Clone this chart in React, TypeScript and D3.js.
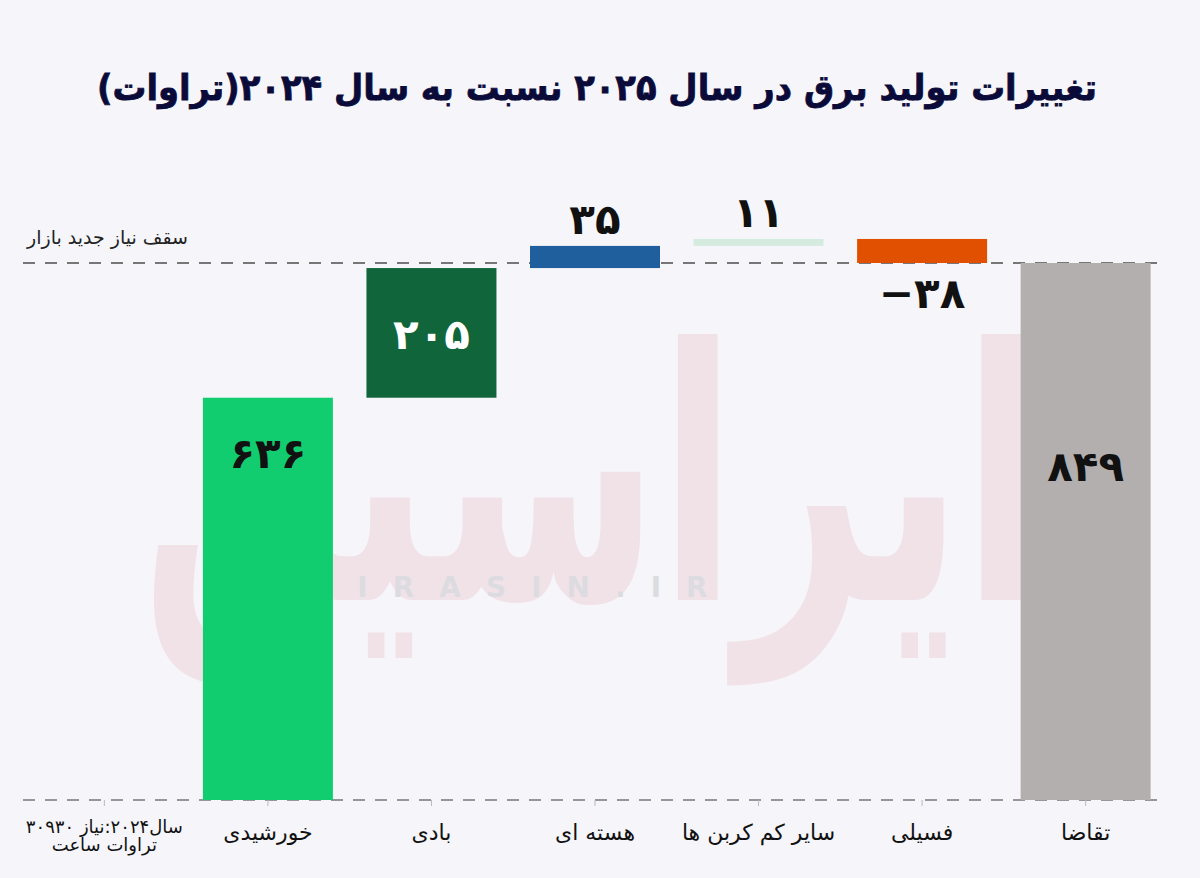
import React from "react";
import * as d3 from "d3";

const categories = ["base2024", "خورشیدی", "بادی", "هسته ای", "سایر کم کربن ها", "فسیلی", "تقاضا"];
const changes = [0, 636, 205, 35, 11, -38, 0];
const demandTotal = 849;
const barColors = ["none", "#12cc70", "#10663a", "#1f5f9e", "#d6ebe0", "#e05000", "#b2afae"];
const labelColors = ["none", "#111", "#fff", "#111", "#111", "#111", "#111"];
const title = "تغییرات تولید برق در سال ۲۰۲۵ نسبت به سال ۲۰۲۴(تراوات)";
const ceilingLabel = "سقف نیاز جدید بازار";
const baseLabelLines = ["سال۲۰۲۴:نیاز ۳۰۹۳۰", "تراوات ساعت"];

const W = 1200;
const H = 878;
const FONT = "'DejaVu Sans', sans-serif";

const toFa = (n: number) => {
  const digits = "۰۱۲۳۴۵۶۷۸۹";
  const s = String(Math.abs(n)).replace(/\d/g, (d) => digits[+d]);
  return n < 0 ? "−" + s : s;
};

export default function App() {
  const x = d3.scaleBand<string>().domain(categories).range([23, 1167]).paddingInner(0.205).paddingOuter(0.1);
  const y = d3.scaleLinear().domain([0, demandTotal]).range([800, 263]);

  let run = 0;
  const bars = categories.map((c, i) => {
    if (i === 0) return null;
    if (i === categories.length - 1) {
      return { c, i, y0: 0, y1: demandTotal, v: demandTotal };
    }
    const start = run;
    run += changes[i];
    return { c, i, y0: start, y1: run, v: changes[i] };
  });

  const bw = 130;
  const cx = (c: string) => (x(c) as number) + x.bandwidth() / 2;

  return (
    <svg width={W} height={H} style={{ position: "absolute", left: 0, top: 0, display: "block" }} fontFamily={FONT}>
      <rect x={0} y={0} width={W} height={H} fill="#f5f5fa" />

      {/* watermark (behind) */}
      <g opacity={0.09} pointerEvents="none" transform="translate(590,600) scale(1,1.4)">
        <text x={0} y={0} textAnchor="middle" direction="rtl" fontSize={250} fontWeight="bold" fill="#d0303f" textLength={900} lengthAdjust="spacingAndGlyphs">ایراسین</text>
      </g>
      <text x={545} y={597} textAnchor="middle" fontSize={28} fontWeight="bold" letterSpacing={25} fill="#dcdce0">IRASIN.IR</text>

      <text x={597} y={100} textAnchor="middle" direction="rtl" fontSize={36} fontWeight="bold" fill="#0b0b3a" stroke="#0b0b3a" strokeWidth={0.8} textLength={1000} lengthAdjust="spacingAndGlyphs">{title}</text>

      {/* dashed reference lines */}
      <line x1={23} x2={1167} y1={y(demandTotal)} y2={y(demandTotal)} stroke="#777" strokeWidth={2} strokeDasharray="12 10" />
      <line x1={23} x2={1167} y1={y(0)} y2={y(0)} stroke="#777" strokeWidth={1.5} strokeDasharray="12 10" />
      <text x={188} y={244} textAnchor="end" fontSize={19} fill="#222">{ceilingLabel}</text>

      {bars.map((b) => b && (
        <rect key={b.c} x={cx(b.c) - bw / 2} width={bw} y={y(Math.max(b.y0, b.y1))} height={Math.abs(y(b.y0) - y(b.y1))} fill={barColors[b.i]} />
      ))}

      {categories.map((c) => (
        <line key={c} x1={cx(c)} x2={cx(c)} y1={800} y2={806} stroke="#bbb" strokeWidth={1} />
      ))}

      {bars.map((b) => {
        if (!b) return null;
        const top = y(Math.max(b.y0, b.y1));
        const bot = y(Math.min(b.y0, b.y1));
        let ly: number;
        if (b.i === 1) ly = top + 70;
        else if (b.i === 2) ly = (top + bot) / 2 + 16;
        else if (b.i === categories.length - 1) ly = top + 218;
        else if (b.v >= 0) ly = top - 12;
        else ly = bot + 45;
        return (
          <text key={"l" + b.c} x={cx(b.c)} y={ly} textAnchor="middle" fontSize={42} fontWeight="bold" fill={labelColors[b.i]}>{toFa(b.v)}</text>
        );
      })}

      {categories.slice(1).map((c) => (
        <text key={"c" + c} x={cx(c)} y={840} textAnchor="middle" direction="rtl" fontSize={22} fill="#111">{c}</text>
      ))}
      {baseLabelLines.map((t, i) => (
        <text key={"b" + i} x={cx(categories[0])} y={833 + i * 18} textAnchor="middle" direction="rtl" fontSize={18} fill="#111">{t}</text>
      ))}
    </svg>
  );
}
